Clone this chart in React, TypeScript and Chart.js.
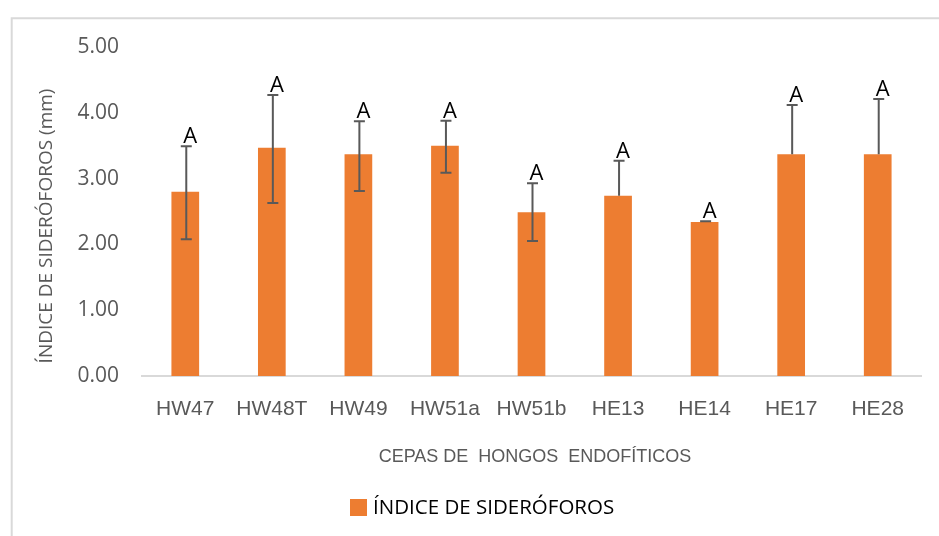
import { useEffect, useRef } from 'react';
import { Chart, registerables } from 'chart.js';

Chart.register(...registerables);

const categories = ['HW47', 'HW48T', 'HW49', 'HW51a', 'HW51b', 'HE13', 'HE14', 'HE17', 'HE28'];
const sideroforoIndex = [2.8, 3.47, 3.37, 3.5, 2.49, 2.74, 2.34, 3.37, 3.37];
const errorPlus = [0.69, 0.8, 0.5, 0.38, 0.44, 0.53, 0.01, 0.75, 0.84];
const errorMinus = [0.72, 0.84, 0.56, 0.41, 0.44, 0, 0, 0, 0];
const groupLetters = ['A', 'A', 'A', 'A', 'A', 'A', 'A', 'A', 'A'];
const yTickValues = [0, 1, 2, 3, 4, 5];
const seriesLabel = 'ÍNDICE DE SIDERÓFOROS';
const xAxisTitle = 'CEPAS DE  HONGOS  ENDOFÍTICOS';
const yAxisTitle = 'ÍNDICE DE SIDERÓFOROS (mm)';

const BAR_COLOR = '#ED7D31';
const GRAY_TEXT = '#595959';

const decorations = {
  id: 'decorations',
  beforeDraw(chart: any) {
    const { ctx, width, height } = chart;
    ctx.save();
    ctx.fillStyle = '#ffffff';
    ctx.fillRect(0, 0, width, height);
    ctx.strokeStyle = '#d9d9d9';
    ctx.lineWidth = 2;
    ctx.beginPath();
    ctx.moveTo(11.7, height);
    ctx.lineTo(11.7, 18.3);
    ctx.lineTo(width, 18.3);
    ctx.stroke();
    ctx.restore();
  },
  afterDatasetsDraw(chart: any) {
    const { ctx } = chart;
    const yScale = chart.scales.y;
    const meta = chart.getDatasetMeta(0);
    ctx.save();
    ctx.strokeStyle = '#595959';
    ctx.lineWidth = 2;
    meta.data.forEach((bar: any, i: number) => {
      const v = sideroforoIndex[i];
      const x = bar.x + 1;
      const yTop = yScale.getPixelForValue(v + errorPlus[i]);
      const yBot = yScale.getPixelForValue(v - errorMinus[i]);
      ctx.beginPath();
      ctx.moveTo(x, yBot);
      ctx.lineTo(x, yTop);
      ctx.moveTo(x - 5.5, yTop);
      ctx.lineTo(x + 5.5, yTop);
      if (errorMinus[i] > 0) {
        ctx.moveTo(x - 5.5, yBot);
        ctx.lineTo(x + 5.5, yBot);
      }
      ctx.stroke();
    });
    ctx.fillStyle = '#000000';
    ctx.font = '22px "Open Sans"';
    ctx.textAlign = 'center';
    ctx.textBaseline = 'alphabetic';
    meta.data.forEach((bar: any, i: number) => {
      const yTop = yScale.getPixelForValue(sideroforoIndex[i] + errorPlus[i]);
      ctx.fillText(groupLetters[i], bar.x + 5, yTop - 3);
    });
    ctx.restore();
  },
  afterDraw(chart: any) {
    const { ctx } = chart;
    ctx.save();
    // x axis title
    ctx.fillStyle = GRAY_TEXT;
    ctx.font = '18px "Liberation Sans"';
    ctx.textAlign = 'center';
    ctx.textBaseline = 'middle';
    ctx.fillText(xAxisTitle, 535, 457);
    // y axis title
    ctx.save();
    ctx.translate(47, 226);
    ctx.rotate(-Math.PI / 2);
    ctx.font = '19px "Open Sans"';
    ctx.fillText(yAxisTitle, 0, 0);
    ctx.restore();
    // legend
    ctx.font = '20.5px "Open Sans"';
    const tw = ctx.measureText(seriesLabel).width;
    const box = 17;
    const gap = 6;
    const startX = 350;
    ctx.fillStyle = BAR_COLOR;
    ctx.fillRect(startX, 499, box, box);
    ctx.fillStyle = '#000000';
    ctx.textAlign = 'left';
    ctx.textBaseline = 'middle';
    ctx.fillText(seriesLabel, startX + box + gap, 508, tw);
    ctx.restore();
  },
};

export default function App() {
  const canvasRef = useRef<HTMLCanvasElement | null>(null);

  useEffect(() => {
    if (!canvasRef.current) return;
    const chart = new Chart(canvasRef.current, {
      type: 'bar',
      data: {
        labels: categories,
        datasets: [
          {
            label: seriesLabel,
            data: sideroforoIndex,
            backgroundColor: BAR_COLOR,
            borderWidth: 0,
            barPercentage: 0.32,
            categoryPercentage: 1,
          },
        ],
      },
      options: {
        responsive: false,
        animation: false,
        devicePixelRatio: 1,
        layout: { padding: { left: 0, top: 47, right: 18, bottom: 0 } },
        plugins: {
          legend: { display: false },
          tooltip: { enabled: false },
        },
        scales: {
          x: {
            grid: { display: false, drawTicks: false },
            border: { display: true, color: '#d9d9d9', width: 2 },
            ticks: {
              color: GRAY_TEXT,
              font: { family: '"Liberation Sans"', size: 21 },
              padding: 21,
              maxRotation: 0,
              autoSkip: false,
            },
            afterFit(scale: any) {
              scale.height = 160;
            },
          },
          y: {
            min: 0,
            max: 5,
            grid: { display: false, drawTicks: false },
            border: { display: false },
            ticks: {
              color: GRAY_TEXT,
              font: { family: '"Open Sans"', size: 21 },
              padding: 23,
              callback: (v: any) => Number(v).toFixed(2),
            },
            afterBuildTicks(scale: any) {
              scale.ticks = yTickValues.map((value) => ({ value }));
            },
            afterFit(scale: any) {
              scale.width = 142;
            },
          },
        },
      },
      plugins: [decorations],
    });
    return () => chart.destroy();
  }, []);

  return (
    <div style={{ position: 'fixed', left: 0, top: 0, width: 939, height: 536, background: '#fff' }}>
      <canvas ref={canvasRef} width={939} height={536} style={{ width: 939, height: 536, display: 'block' }} />
    </div>
  );
}
